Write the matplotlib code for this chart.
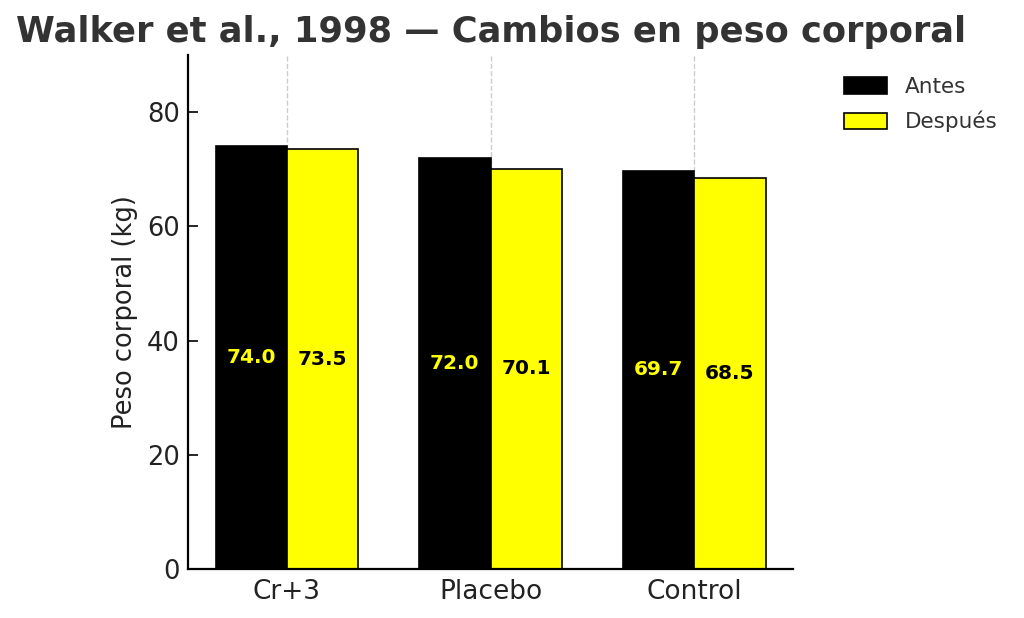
import matplotlib
matplotlib.use("Agg")
import matplotlib.pyplot as plt
import numpy as np

groups = ["Cr+3", "Placebo", "Control"]
antes = [74.0, 72.0, 69.7]
despues = [73.5, 70.1, 68.5]
series_labels = ["Antes", "Después"]

fig = plt.figure(figsize=(10.24, 6.18), dpi=100)
ax = fig.add_axes([188/1024, 1-569/618, (793-188)/1024, (569-55)/618])

x = np.arange(len(groups))
w = 0.35
b1 = ax.bar(x - w/2, antes, w, color="black", edgecolor="black", linewidth=1.2, label=series_labels[0], zorder=2)
b2 = ax.bar(x + w/2, despues, w, color="yellow", edgecolor="black", linewidth=1.2, label=series_labels[1], zorder=2)

for rect, v in zip(b1, antes):
    ax.text(rect.get_x() + rect.get_width()/2, v/2, f"{v:.1f}", ha="center", va="center",
            color="yellow", fontsize=14.5, fontweight="bold", zorder=3)
for rect, v in zip(b2, despues):
    ax.text(rect.get_x() + rect.get_width()/2, v/2, f"{v:.1f}", ha="center", va="center",
            color="black", fontsize=14.5, fontweight="bold", zorder=3)

ax.set_ylim(0, 90)
ax.set_xticks(x)
ax.set_xticklabels(groups, fontsize=19, color="#222222")
ax.set_yticks([0, 20, 40, 60, 80])
ax.tick_params(axis="y", labelsize=18.5, labelcolor="#222222", direction="in", length=7, width=1.2, pad=6)
ax.tick_params(axis="x", direction="in", length=0, width=1.2, pad=7)
ax.xaxis.grid(True, linestyle="--", color="#cccccc", linewidth=1, zorder=0)
ax.set_axisbelow(True)
for s in ["top", "right"]:
    ax.spines[s].set_visible(False)
for s in ["left", "bottom"]:
    ax.spines[s].set_linewidth(1.6)
ax.set_ylabel("Peso corporal (kg)", fontsize=18.5, color="#222222", labelpad=6)

fig.text(0.016, 1-32/618, "Walker et al., 1998 — Cambios en peso corporal", fontsize=25.4,
         fontweight="bold", color="#333333", va="center", ha="left")

ax.legend(loc="upper left", bbox_to_anchor=(1.053, 0.995), frameon=False, fontsize=15.5,
          handlelength=2.0, handleheight=0.8, labelspacing=0.65, labelcolor="#333333")

fig.savefig("out.png", dpi=100)
